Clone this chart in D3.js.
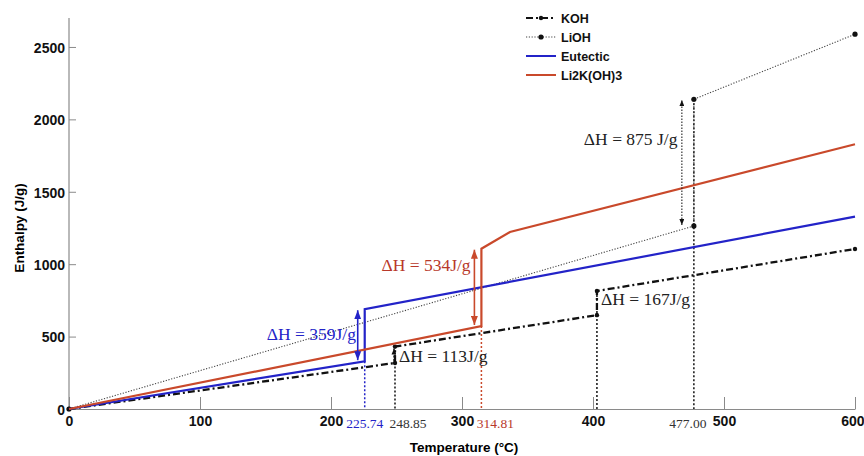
<!DOCTYPE html>
<html>
<head>
<meta charset="utf-8">
<script src="https://cdn.jsdelivr.net/npm/d3@7"></script>
<style>
  html, body { margin: 0; padding: 0; background: #fff; }
  svg { display: block; }
</style>
</head>
<body>
<svg id="chart" width="864" height="456"></svg>
<script>
// Enthalpy vs temperature for KOH, LiOH, the eutectic and Li2K(OH)3
const kohT  = [0, 248.85, 248.85, 403, 403, 600];
const kohH  = [0, 318, 431, 648, 815, 1105];
const liohT = [0, 477, 477, 600];
const liohH = [0, 1264, 2139, 2588];
const eutT  = [0, 225.74, 225.74, 600];
const eutH  = [0, 330, 689, 1328];
const li2kT = [0, 314.81, 314.81, 336.6, 600];
const li2kH = [0, 573, 1107, 1222, 1828];

const seriesNames = ["KOH", "LiOH", "Eutectic", "Li2K(OH)3"];
const xTicks = [0, 100, 200, 300, 400, 500, 600];
const yTicks = [0, 500, 1000, 1500, 2000, 2500];
const transitionT = [225.74, 248.85, 314.81, 477.00];
const transitionLabels = ["225.74", "248.85", "314.81", "477.00"];
const deltaHValues = [359, 534, 113, 167, 875];
const deltaHLabels = ["ΔH = 359J/g", "ΔH = 534J/g", "ΔH = 113J/g", "ΔH = 167J/g", "ΔH = 875 J/g"];

const BLUE = "#2323c8", RED = "#c9492b", RED_TXT = "#b8382a", AXIS = "#8a8a8a";

const svg = d3.select("#chart");
const x = d3.scaleLinear().domain([0, 600]).range([69, 855]);
const y = d3.scaleLinear().domain([0, 2700]).range([409, 18]);

const zip = (ts, hs) => ts.map((t, i) => [t, hs[i]]);
const line = d3.line().x(d => x(d[0])).y(d => y(d[1]));

// arrowheads
const defs = svg.append("defs");
function arrowHead(id, color, w, h) {
  defs.append("marker").attr("id", id)
    .attr("viewBox", `0 -${w / 2} ${h} ${w}`)
    .attr("refX", h).attr("refY", 0)
    .attr("markerUnits", "userSpaceOnUse")
    .attr("markerWidth", h).attr("markerHeight", w)
    .attr("orient", "auto-start-reverse")
    .append("path").attr("d", `M0,-${w / 2}L${h},0L0,${w / 2}Z`).attr("fill", color);
}
arrowHead("aBlue", BLUE, 7, 9);
arrowHead("aRed", RED, 7, 9);
arrowHead("aBlack", "#111", 5, 6);

// axes
const xAxis = d3.axisBottom(x).tickValues(xTicks).tickSizeInner(-12).tickSizeOuter(0).tickPadding(7)
  .tickFormat(d3.format("d"));
const gx = svg.append("g").attr("transform", `translate(0,${y(0)})`).call(xAxis);
const yAxis = d3.axisLeft(y).tickValues(yTicks).tickSizeInner(-7).tickSizeOuter(0).tickPadding(4)
  .tickFormat(d3.format("d"));
const gy = svg.append("g").attr("transform", `translate(${x(0)},0)`).call(yAxis);
[gx, gy].forEach(g => {
  g.select(".domain").attr("stroke", AXIS).attr("stroke-width", 1.2);
  g.selectAll(".tick line").attr("stroke", AXIS).attr("stroke-width", 1);
  g.selectAll(".tick text")
    .attr("font-family", "Liberation Sans, Arial, sans-serif")
    .attr("font-weight", "bold").attr("font-size", 14).attr("fill", "#111");
});
gy.select(".domain").attr("d", `M0,${y(0)}V18`);
gy.selectAll(".tick text").attr("dy", "0.38em");
// keep the last tick label inside the frame
gx.selectAll(".tick text").filter(d => d === 600).attr("text-anchor", "end").attr("x", 9);

// transition temperatures under the axis
const tColors = [BLUE, "#333", RED_TXT, "#333"];
const tDx = [0, 13, 14, -6];
svg.append("g").selectAll("text").data(transitionT).join("text")
  .attr("x", (d, i) => x(d) + tDx[i]).attr("y", y(0) + 19)
  .attr("text-anchor", "middle")
  .attr("font-family", "Liberation Serif, Times New Roman, serif")
  .attr("font-size", 13.5).attr("fill", (d, i) => tColors[i])
  .text((d, i) => transitionLabels[i]);

// axis titles
svg.append("text").attr("x", 464).attr("y", 452).attr("text-anchor", "middle")
  .attr("font-family", "Liberation Sans, Arial, sans-serif").attr("font-weight", "bold").attr("font-size", 13.5)
  .text("Temperature (°C)");
svg.append("text").attr("transform", "translate(24,228) rotate(-90)").attr("text-anchor", "middle")
  .attr("font-family", "Liberation Sans, Arial, sans-serif").attr("font-weight", "bold").attr("font-size", 13.5)
  .text("Enthalpy (J/g)");

// vertical drop lines from the transitions down to the axis
const drops = [
  { t: 225.74, h: eutH[1], color: BLUE },
  { t: 248.85, h: kohH[2], color: "#111" },
  { t: 314.81, h: li2kH[1], color: RED },
  { t: 403, h: kohH[4], color: "#111" },
  { t: 477, h: liohH[2], color: "#111" }
];
svg.append("g").selectAll("line").data(drops).join("line")
  .attr("x1", d => x(d.t)).attr("x2", d => x(d.t))
  .attr("y1", d => y(d.h)).attr("y2", y(0))
  .attr("stroke", d => d.color).attr("stroke-width", 1.5).attr("stroke-dasharray", "2,2");

// series
const series = [
  { name: "LiOH", pts: zip(liohT, liohH), color: "#444", width: 1.1, dash: "1.2,1.6", marker: 2.6 },
  { name: "KOH", pts: zip(kohT, kohH), color: "#111", width: 2.3, dash: "7,3,2,3", marker: 2.2 },
  { name: "Eutectic", pts: zip(eutT, eutH), color: BLUE, width: 2.2, dash: null, marker: 0 },
  { name: "Li2K(OH)3", pts: zip(li2kT, li2kH), color: RED, width: 2.2, dash: null, marker: 0 }
];
series.forEach(s => {
  svg.append("path").datum(s.pts).attr("d", line)
    .attr("fill", "none").attr("stroke", s.color).attr("stroke-width", s.width)
    .attr("stroke-dasharray", s.dash);
  if (s.marker) {
    svg.append("g").selectAll("circle").data(s.pts).join("circle")
      .attr("cx", d => x(d[0])).attr("cy", d => y(d[1])).attr("r", s.marker).attr("fill", "#111");
  }
});

// enthalpy-jump arrows
const arrows = [
  { t: 225.74, dx: -7, lo: eutH[1], hi: eutH[2], color: BLUE, m: "aBlue", dash: null, w: 1.6 },
  { t: 314.81, dx: -7, lo: li2kH[1], hi: li2kH[2], color: RED, m: "aRed", dash: null, w: 1.6 },
  { t: 477, dx: -12, lo: liohH[1], hi: liohH[2], color: "#222", m: "aBlack", dash: "1.5,1.5", w: 1.1 }
];
svg.append("g").selectAll("line").data(arrows).join("line")
  .attr("x1", d => x(d.t) + d.dx).attr("x2", d => x(d.t) + d.dx)
  .attr("y1", d => y(d.lo) - 1).attr("y2", d => y(d.hi) + 1)
  .attr("stroke", d => d.color).attr("stroke-width", d => d.w).attr("stroke-dasharray", d => d.dash)
  .attr("marker-start", d => `url(#${d.m})`).attr("marker-end", d => `url(#${d.m})`);
// small upward arrow on the first KOH step
svg.append("line")
  .attr("x1", x(248.85) - 1).attr("x2", x(248.85) - 1)
  .attr("y1", y(kohH[1]) - 2).attr("y2", y(kohH[2]) + 2)
  .attr("stroke", "#111").attr("stroke-width", 1.3).attr("stroke-dasharray", "2,1.5")
  .attr("marker-end", "url(#aBlack)");

// ΔH labels
const labelPos = [
  { t: 225.74, h: eutH[1], dx: -98, dy: -21, color: BLUE },
  { t: 314.81, h: li2kH[1], dx: -100, dy: -55, color: RED_TXT },
  { t: 248.85, h: kohH[2], dx: 4, dy: 15, color: "#222" },
  { t: 403, h: kohH[4], dx: 4, dy: 14, color: "#222" },
  { t: 477, h: liohH[2], dx: -110, dy: 46, color: "#222" }
];
svg.append("g").selectAll("text").data(labelPos).join("text")
  .attr("x", d => x(d.t) + d.dx).attr("y", d => y(d.h) + d.dy)
  .attr("font-family", "Liberation Serif, Times New Roman, serif")
  .attr("font-size", 17.5).attr("fill", d => d.color)
  .text((d, i) => deltaHLabels[i]);

// legend
const legend = svg.append("g").attr("transform", "translate(526,18)");
series.slice().sort((a, b) => seriesNames.indexOf(a.name) - seriesNames.indexOf(b.name)).forEach((s, i) => {
  const g = legend.append("g").attr("transform", `translate(0,${i * 19})`);
  g.append("line").attr("x1", 0).attr("x2", 30).attr("y1", 0).attr("y2", 0)
    .attr("stroke", s.color).attr("stroke-width", s.dash ? Math.max(s.width - 0.4, 1.2) : 2)
    .attr("stroke-dasharray", s.dash);
  if (s.marker) g.append("circle").attr("cx", 15).attr("cy", 0).attr("r", s.marker).attr("fill", "#111");
  g.append("text").attr("x", 35).attr("y", 0).attr("dy", "0.36em")
    .attr("font-family", "Liberation Sans, Arial, sans-serif").attr("font-weight", "bold")
    .attr("font-size", 12.5).attr("fill", "#111").text(s.name);
});
</script>
</body>
</html>
